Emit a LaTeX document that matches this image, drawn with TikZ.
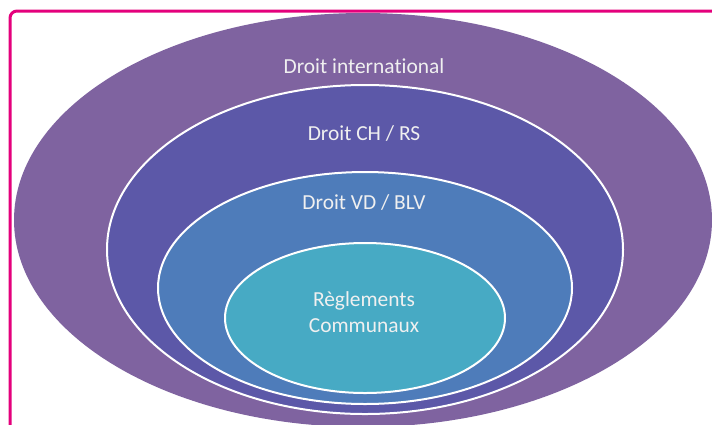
\documentclass[tikz,border=0pt]{standalone}
\usepackage{fontspec}
\setmainfont{Carlito}[Ligatures=NoCommon]
\usetikzlibrary{calc}
\definecolor{framepink}{HTML}{E4007C}
\definecolor{ringintl}{HTML}{7F63A0}
\definecolor{ringch}{HTML}{5C58A8}
\definecolor{ringvd}{HTML}{4E7CBA}
\definecolor{ringcom}{HTML}{47AAC4}
\tikzset{
	ring/.style={draw=white, line width=2bp},
	ringlabel/.style={text=white!94!black, font=\fontsize{21.5}{25.5}\selectfont, align=center, inner sep=0pt}
}

\begin{document}
\begin{tikzpicture}[x=1bp, y=-1bp]
			%%%%% START %%%%%
			\useasboundingbox (0, 0) rectangle (712, 424);
			\clip (0, 0) rectangle (712, 424);
			
			\fill[white] (0, 0) rectangle (712, 424);
			
			\fill[ringintl] (363, 220) ellipse [x radius=349, y radius=207];
			\filldraw[ring, fill=ringch] (365, 249.5) ellipse [x radius=258, y radius=164.5];
			\filldraw[ring, fill=ringvd] (365, 288) ellipse [x radius=207, y radius=116];
			\filldraw[ring, fill=ringcom] (365, 318) ellipse [x radius=140, y radius=75];
			
			\node[ringlabel] (intl) at (364, 66) {Droit international};
			\node[ringlabel] (ch) at (364, 134) {Droit CH / RS};
			\node[ringlabel] (vd) at (364, 203) {Droit VD / BLV};
			\node[ringlabel] (com) at (364, 312) {Règlements\\Communaux};
			
			\draw[framepink, line width=3bp, rounded corners=7bp] (10, 440) -- (10, 11) -- (740, 11);
			%%%%% END %%%%%
\end{tikzpicture}
\end{document}
